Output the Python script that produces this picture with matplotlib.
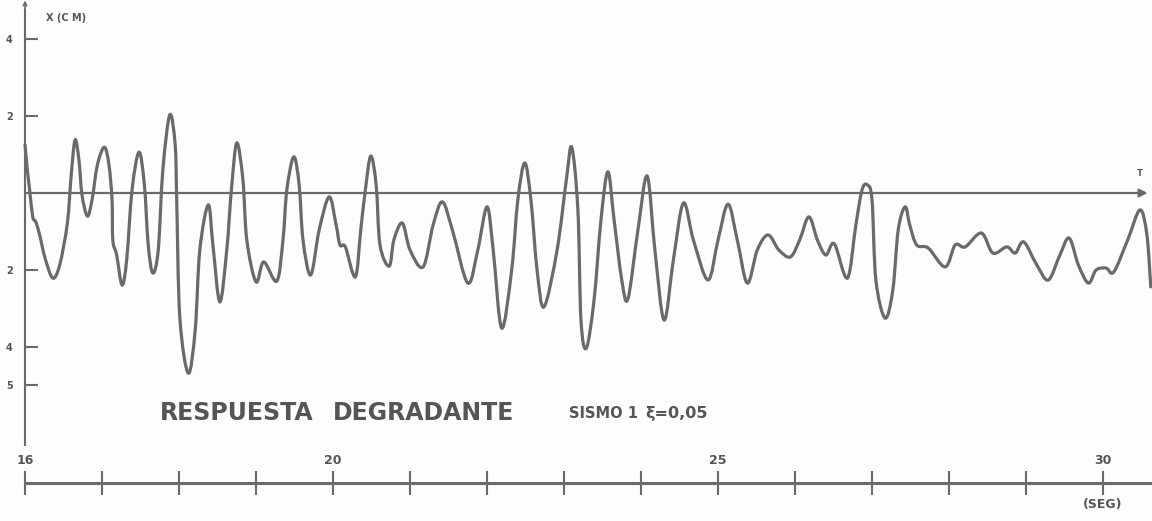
import numpy as np
import matplotlib
matplotlib.use("agg")
import matplotlib.pyplot as plt
from matplotlib.path import Path
from matplotlib.patches import PathPatch

# Response trace (time in s, displacement in cm)
t = [16.00, 16.03, 16.06, 16.10, 16.14, 16.19, 16.26, 16.36, 16.45, 16.55,
     16.60, 16.65, 16.70, 16.74, 16.81, 16.87, 16.94, 17.03, 17.09, 17.13,
     17.14, 17.19, 17.26, 17.32, 17.39, 17.48, 17.55, 17.60, 17.66, 17.73,
     17.79, 17.88, 17.95, 17.97, 18.01, 18.12, 18.21, 18.27, 18.38, 18.44,
     18.53, 18.62, 18.68, 18.75, 18.83, 18.88, 19.00, 19.10, 19.27, 19.35,
     19.40, 19.49, 19.56, 19.61, 19.71, 19.82, 19.95, 20.04, 20.09, 20.16,
     20.29, 20.36, 20.42, 20.49, 20.56, 20.61, 20.73, 20.79, 20.90, 21.00,
     21.17, 21.30, 21.42, 21.55, 21.75, 21.88, 22.00, 22.08, 22.19, 22.32,
     22.40, 22.49, 22.57, 22.65, 22.74, 22.91, 23.03, 23.10, 23.18, 23.22,
     23.29, 23.39, 23.48, 23.57, 23.65, 23.75, 23.83, 23.96, 24.08, 24.18,
     24.30, 24.42, 24.55, 24.68, 24.87, 25.00, 25.13, 25.25, 25.38, 25.51,
     25.65, 25.79, 25.94, 26.06, 26.18, 26.29, 26.40, 26.51, 26.68, 26.79,
     26.87, 26.94, 27.00, 27.05, 27.17, 27.27, 27.34, 27.43, 27.49, 27.58,
     27.73, 27.95, 28.08, 28.21, 28.42, 28.57, 28.75, 28.86, 28.97, 29.14,
     29.29, 29.44, 29.56, 29.68, 29.81, 29.91, 30.04, 30.14, 30.32, 30.48,
     30.57, 30.62]
x_cm = [1.25, 0.60, 0.08, -0.62, -0.75, -1.09, -1.69, -2.21, -1.87, -0.78,
        0.47, 1.38, 0.86, -0.05, -0.60, -0.18, 0.73, 1.19, 0.73, -0.18,
        -1.22, -1.61, -2.39, -1.74, 0.08, 1.06, 0.21, -1.35, -2.08, -1.48,
        0.60, 2.03, 1.25, -0.18, -3.22, -4.68, -3.56, -1.48, -0.31, -1.35,
        -2.83, -1.48, 0.08, 1.30, 0.34, -1.22, -2.31, -1.79, -2.29, -1.22,
        0.08, 0.94, 0.21, -1.22, -2.13, -0.96, -0.10, -0.83, -1.35, -1.40,
        -2.18, -0.96, 0.08, 0.96, 0.21, -1.35, -1.90, -1.22, -0.78, -1.48,
        -1.92, -0.83, -0.23, -0.96, -2.34, -1.48, -0.36, -1.48, -3.51, -2.00,
        -0.18, 0.78, -0.18, -2.00, -2.96, -1.48, 0.34, 1.19, -0.44, -3.30,
        -4.03, -2.78, -0.70, 0.55, -0.70, -2.26, -2.75, -0.96, 0.44, -1.48,
        -3.30, -1.74, -0.26, -1.22, -2.26, -1.22, -0.29, -1.22, -2.34, -1.48,
        -1.09, -1.48, -1.66, -1.22, -0.62, -1.22, -1.61, -1.32, -2.21, -0.83,
        0.08, 0.21, -0.18, -2.26, -3.25, -2.52, -0.96, -0.36, -0.83, -1.35,
        -1.43, -1.92, -1.35, -1.40, -1.04, -1.56, -1.40, -1.56, -1.27, -1.87,
        -2.26, -1.61, -1.17, -1.87, -2.34, -2.00, -1.95, -2.05, -1.22, -0.44,
        -1.09, -2.44]

y_ticks = [4, 2, -2, -4, -5]
y_ticklabels = ["4", "2", "2", "4", "5"]
x_major = [16, 20, 25, 30]
x_minor = list(range(17, 30))

ink = "#6a6a6a"
text_ink = "#555555"


def smooth_path(xs, ys):
    # Catmull-Rom through the read points, drawn as cubic Bezier segments
    pts = np.column_stack([xs, ys])
    ext = np.vstack([pts[0], pts, pts[-1]])
    verts = [pts[0]]
    codes = [Path.MOVETO]
    for i in range(1, len(ext) - 2):
        p0, p1, p2, p3 = ext[i - 1], ext[i], ext[i + 1], ext[i + 2]
        verts += [p1 + (p2 - p0) / 6, p2 - (p3 - p1) / 6, p2]
        codes += [Path.CURVE4] * 3
    return Path(verts, codes)


fig = plt.figure(figsize=(11.52, 5.21), dpi=100, facecolor="#fdfdfd")
ax = fig.add_axes([0, 0, 1, 1])
ax.set_facecolor("#fdfdfd")
ax.set_xlim(15.675, 30.636)
ax.set_ylim(-8.52, 5.013)

ax.add_patch(PathPatch(smooth_path(t, x_cm), facecolor="none",
                       edgecolor=ink, lw=2.3, capstyle="round",
                       joinstyle="round"))

# time axis (zero line) with arrow
ax.annotate("", xy=(30.58, 0), xytext=(16, 0),
            arrowprops=dict(arrowstyle="-|>", color=ink, lw=1.6,
                            mutation_scale=12, shrinkA=0, shrinkB=0))
ax.text(30.48, 0.5, "T", fontsize=6, fontweight="bold", color=text_ink,
        ha="center", va="center")

# displacement axis
for side in ["right", "bottom"]:
    ax.spines[side].set_visible(False)
ax.spines["left"].set_position(("data", 16))
ax.spines["left"].set_bounds(-6.55, 4.75)
ax.spines["left"].set_color(ink)
ax.spines["left"].set_linewidth(1.5)
ax.set_yticks(y_ticks)
ax.set_yticklabels(y_ticklabels)
ax.tick_params(axis="y", direction="in", length=9, width=1.5, color=ink,
               labelsize=7, labelcolor=text_ink, pad=9)
for lab in ax.get_yticklabels():
    lab.set_fontweight("bold")
ax.annotate("", xy=(16, 5.0), xytext=(16, 4.6),
            arrowprops=dict(arrowstyle="->", color=ink, lw=1.2,
                            mutation_scale=6, shrinkA=0, shrinkB=0))
ax.text(16.27, 4.55, "X (C M)", fontsize=7, fontweight="bold",
        color=text_ink, ha="left", va="center")

# separate time scale at the bottom
ax.spines["top"].set_position(("data", -7.53))
ax.spines["top"].set_bounds(16, 30.636)
ax.spines["top"].set_color(ink)
ax.spines["top"].set_linewidth(2.2)
ax.xaxis.set_ticks_position("top")
ax.set_xticks(x_major)
ax.set_xticks(x_minor, minor=True)
ax.set_xticklabels([str(v) for v in x_major])
ax.tick_params(axis="x", which="both", direction="inout", length=17,
               width=1.5, color=ink, top=True, bottom=False,
               labeltop=True, labelbottom=False, labelsize=9,
               labelcolor=text_ink, pad=3)
for lab in ax.get_xticklabels():
    lab.set_fontweight("bold")
ax.text(30, -8.1, "(SEG)", fontsize=9, fontweight="bold", color=text_ink,
        ha="center", va="center")

# captions
ax.text(17.75, -5.71, "RESPUESTA", fontsize=17, fontweight="bold",
        color=text_ink, ha="left", va="center")
ax.text(20.0, -5.71, "DEGRADANTE", fontsize=17, fontweight="bold",
        color=text_ink, ha="left", va="center")
ax.text(23.06, -5.73, "SISMO 1", fontsize=10.5, fontweight="bold",
        color=text_ink, ha="left", va="center")
ax.text(24.05, -5.73, "ξ=0,05", fontsize=11.5, fontweight="bold",
        color=text_ink, ha="left", va="center")

fig.savefig("out.png", dpi=100, facecolor=fig.get_facecolor())
